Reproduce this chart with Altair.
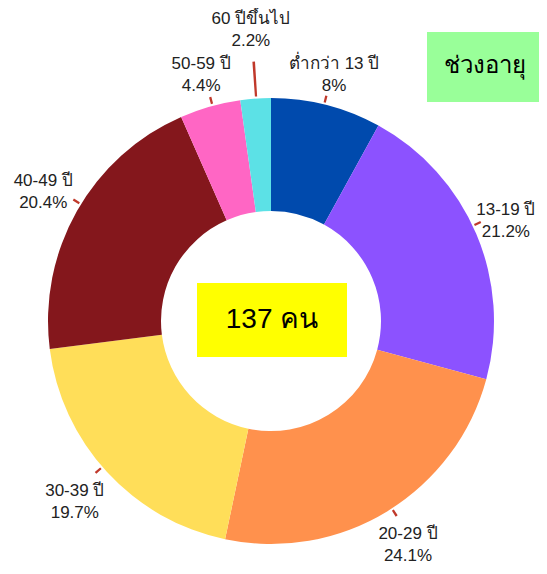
import altair as alt
import pandas as pd

categories = ["ต่ำกว่า 13 ปี", "13-19 ปี", "20-29 ปี", "30-39 ปี", "40-49 ปี", "50-59 ปี", "60 ปีขึ้นไป"]
percents = [8, 21.2, 24.1, 19.7, 20.4, 4.4, 2.2]
colors = ["#004aad", "#8c52ff", "#ff914d", "#ffde59", "#84171c", "#ff66c4", "#5ce1e6"]
total_label = "137 คน"
title_label = "ช่วงอายุ"

df = pd.DataFrame({"cat": categories, "pct": percents, "idx": list(range(len(categories)))})
df["label"] = [f"{c}\n{p:g}%" for c, p in zip(categories, percents)]

CX, CY = 263, 313
FONT = "Liberation Sans, Arial, sans-serif"
theta_scale = alt.Scale(domain=[0, 100])

base = alt.Chart(df)

donut = base.mark_arc(innerRadius=110, outerRadius=223).encode(
    theta=alt.Theta("pct:Q", stack=True, scale=theta_scale),
    color=alt.Color("cat:N", scale=alt.Scale(domain=categories, range=colors), legend=None),
    order=alt.Order("idx:Q"),
    x=alt.value(CX),
    y=alt.value(CY),
)

pos = base.transform_window(
    cum="sum(pct)", sort=[alt.SortField("idx")]
).transform_calculate(
    mid="datum.cum - datum.pct / 2",
    ang="datum.mid / 100 * 2 * PI",
).transform_calculate(
    lr="datum.pct < 3 ? 292 : 259 + 6 * abs(sin(datum.ang)) - 5 * cos(datum.ang) - 8 * max(sin(datum.ang), 0)",
).transform_calculate(
    la0="atan2(datum.lr * sin(datum.ang), datum.lr * cos(datum.ang) + 11) / (2 * PI) * 100",
).transform_calculate(
    la="datum.la0 < 0 ? datum.la0 + 100 : datum.la0",
).transform_calculate(
    t1="datum.la - 0.08",
    t2="datum.la + 0.08",
    lo="datum.pct < 3 ? 260 : 232",
)

lines = pos.mark_arc(innerRadius=225, color="#c0392b").encode(
    theta=alt.Theta("t1:Q", scale=theta_scale, stack=None),
    theta2="t2:Q",
    radius=alt.Radius("lo:Q", scale=None),
    x=alt.value(CX),
    y=alt.value(CY),
)

labels = pos.mark_text(
    font=FONT, fontSize=17, lineBreak="\n", lineHeight=22,
    align="center", baseline="middle", dy=-11, color="#222222",
).encode(
    theta=alt.Theta("mid:Q", scale=theta_scale, stack=None),
    radius=alt.Radius("lr:Q", scale=None),
    text="label:N",
    x=alt.value(CX),
    y=alt.value(CY),
)

one_total = alt.Chart(pd.DataFrame({"t": [total_label]}))
box1 = one_total.mark_rect(color="#ffff00").encode(
    x=alt.value(189), x2=alt.value(339), y=alt.value(275), y2=alt.value(349)
)
txt1 = one_total.mark_text(font=FONT, fontSize=28, color="#000000", align="center", baseline="middle").encode(
    text="t:N", x=alt.value(264), y=alt.value(312)
)

one_title = alt.Chart(pd.DataFrame({"t": [title_label]}))
box2 = one_title.mark_rect(color="#99ff99").encode(
    x=alt.value(419), x2=alt.value(531), y=alt.value(24), y2=alt.value(94)
)
txt2 = one_title.mark_text(font=FONT, fontSize=24, color="#000000", align="center", baseline="middle").encode(
    text="t:N", x=alt.value(477), y=alt.value(58)
)

chart = alt.layer(donut, lines, labels, box1, txt1, box2, txt2).properties(
    width=531, height=558, padding=0, autosize=alt.AutoSizeParams(type="none")
).configure_view(stroke=None)

chart.save("out.html", embed_options={"renderer": "svg", "actions": False})
